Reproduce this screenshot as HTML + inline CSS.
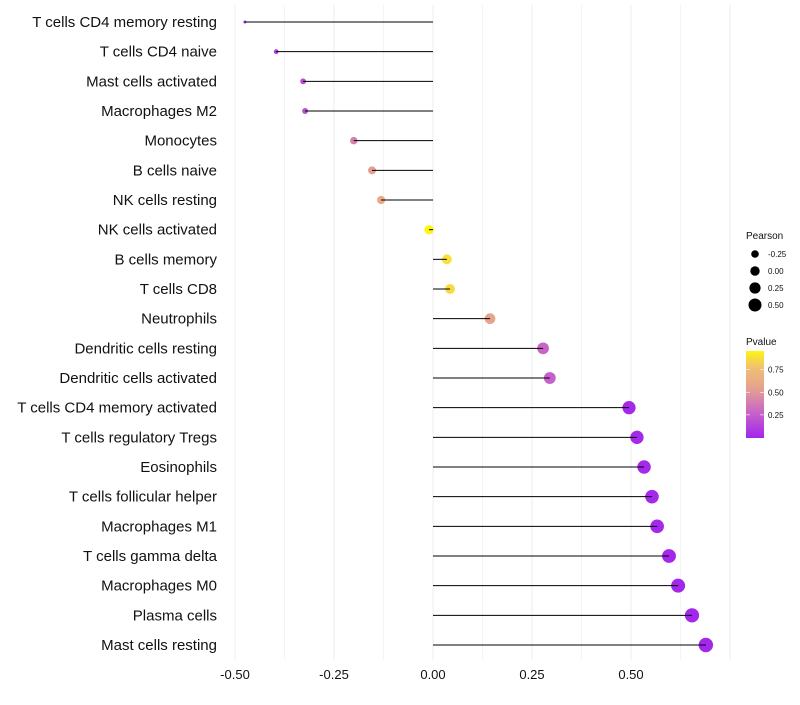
<!DOCTYPE html>
<html><head><meta charset="utf-8"><style>
body{margin:0;background:#fff;font-family:"Liberation Sans",sans-serif}
</style></head><body>
<svg id="chart" width="800" height="700" xmlns="http://www.w3.org/2000/svg"></svg>
<script>
const categories=["T cells CD4 memory resting","T cells CD4 naive","Mast cells activated","Macrophages M2","Monocytes","B cells naive","NK cells resting","NK cells activated","B cells memory","T cells CD8","Neutrophils","Dendritic cells resting","Dendritic cells activated","T cells CD4 memory activated","T cells regulatory  Tregs ","Eosinophils","T cells follicular helper","Macrophages M1","T cells gamma delta","Macrophages M0","Plasma cells","Mast cells resting"];
const pearson=[-0.475,-0.396,-0.328,-0.323,-0.2,-0.154,-0.131,-0.01,0.035,0.043,0.144,0.278,0.295,0.495,0.515,0.533,0.553,0.566,0.596,0.619,0.654,0.689];
const pvalue=[0.03,0.12,0.2,0.2,0.42,0.56,0.62,0.97,0.9,0.88,0.58,0.3,0.28,0.04,0.04,0.04,0.04,0.04,0.03,0.03,0.03,0.03];
const xTicks=[-0.5,-0.25,0,0.25,0.5];
const xTickLabels=["-0.50","-0.25","0.00","0.25","0.50"];
const sizeLegend=[-0.25,0,0.25,0.5];
const sizeLegendLabels=["-0.25","0.00","0.25","0.50"];
const pTicks=[0.25,0.5,0.75];

const svg=document.getElementById('chart');
const NS="http://www.w3.org/2000/svg";
function mk(t,a){const e=document.createElementNS(NS,t);for(const k in a)e.setAttribute(k,a[k]);svg.appendChild(e);return e;}
const xS=v=>433+v*396;
const yS=i=>22+i*(623/21);
const rS=v=>Math.sqrt(2.25+42.7*(v+0.475));
const stops=[[0,[160,32,240]],[0.3,[200,100,200]],[0.45,[216,136,168]],[0.6,[232,168,136]],[0.8,[240,192,112]],[1,[255,255,0]]];
function col(p){for(let i=1;i<stops.length;i++){if(p<=stops[i][0]){const a=stops[i-1],b=stops[i],t=(p-a[0])/(b[0]-a[0]);return 'rgb('+a[1].map((c,j)=>Math.round(c+(b[1][j]-c)*t)).join(',')+')';}}return 'rgb(255,255,0)';}

for(let v=-0.5;v<=0.751;v+=0.125){
  const g=mk('line',{x1:xS(v),x2:xS(v),y1:5,y2:660,stroke:'#ececec','stroke-width':Math.abs(v/0.25-Math.round(v/0.25))<1e-6?1:0.6});
  
  
}
xTicks.forEach((v,i)=>{
  const t=mk('text',{x:xS(v),y:679,'text-anchor':'middle','font-size':13,fill:'#111'});
  t.textContent=xTickLabels[i];
  
  
});
categories.forEach((c,i)=>{
  const y=yS(i);
  const t=mk('text',{x:217,y:y+5,'text-anchor':'end','font-size':15,fill:'#111'});
  t.textContent=c;
  
  
  const d=mk('circle',{cx:xS(pearson[i]),cy:y,r:rS(pearson[i]),fill:col(pvalue[i])});
  
  
  const l=mk('line',{x1:xS(0),x2:xS(pearson[i]),y1:y,y2:y,stroke:'#000','stroke-width':1});
  
  
});
let lt=mk('text',{x:746,y:239,'font-size':10,fill:'#111'});lt.textContent='Pearson';


sizeLegend.forEach((v,i)=>{
  const y=254+i*17;
  const c=mk('circle',{cx:755,cy:y,r:3.8+i*0.9,fill:'#000'});
  
  
  const t=mk('text',{x:768,y:y+3,'font-size':8,fill:'#111'});t.textContent=sizeLegendLabels[i];
  
  
});
lt=mk('text',{x:746,y:345,'font-size':10,fill:'#111'});lt.textContent='Pvalue';


const defs=mk('defs',{});
const lg=document.createElementNS(NS,'linearGradient');lg.setAttribute('id','pg');lg.setAttribute('x1',0);lg.setAttribute('y1',1);lg.setAttribute('x2',0);lg.setAttribute('y2',0);
defs.appendChild(lg);
for(let k=0;k<=10;k++){const s=document.createElementNS(NS,'stop');s.setAttribute('offset',k/10);s.setAttribute('stop-color',col(0.02+0.95*k/10));lg.appendChild(s);}
const bar=mk('rect',{x:746,y:351,width:18,height:87,fill:'url(#pg)'});


pTicks.forEach(p=>{
  const y=437.5-p*90.5;
  mk('line',{x1:746,x2:750,y1:y,y2:y,stroke:'#fff','stroke-width':0.6});
  mk('line',{x1:760,x2:764,y1:y,y2:y,stroke:'#fff','stroke-width':0.6});
  const t=mk('text',{x:768,y:y+3,'font-size':8,fill:'#111'});t.textContent=p.toFixed(2);
  
  
});
</script>
</body></html>
